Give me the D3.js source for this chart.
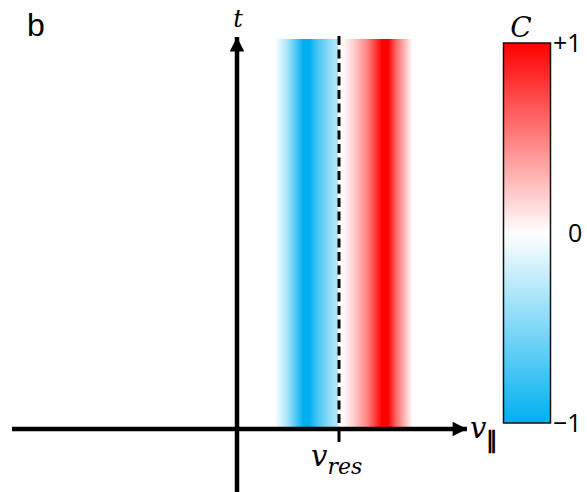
<!DOCTYPE html>
<html>
<head>
<meta charset="utf-8">
<script src="https://cdn.jsdelivr.net/npm/d3@7"></script>
<style>
  body { margin: 0; background: #fff; }
  svg { display: block; }
</style>
</head>
<body>
<div id="chart"></div>
<script>
// velocity positions (v_res = 1) and the correlation C across the band
const v_stops = [0.37, 0.48, 0.58, 0.65, 0.71, 0.80, 0.90, 0.985, 0.99, 1.03, 1.15, 1.28, 1.38, 1.42, 1.48, 1.56, 1.64, 1.72];
const c_stops = [0, -0.3, -0.7, -1, -1, -0.7, -0.45, -0.3, 0, 0, 0.2, 0.5, 0.85, 1, 1, 0.6, 0.3, 0];
const v_res = 1;
const t_span = [0, 1];
const cb_ticks = [1, 0, -1];
const cb_labels = ["+1", "0", "\u22121"];

const width = 587, height = 492;

const svg = d3.select("#chart").append("svg")
	.attr("width", width)
	.attr("height", height);

const x = d3.scaleLinear().domain([0, 1]).range([237, 339]);
const y = d3.scaleLinear().domain([0, 1]).range([429, 39]);
const cb_y = d3.scaleLinear().domain([-1, 1]).range([423, 43]);

const color = d3.scaleLinear()
	.domain([-1, 0, 1])
	.range(["#00b0f0", "#ffffff", "#ff0000"]);

const defs = svg.append("defs");

// band gradient (horizontal)
const v0 = v_stops[0], v1 = v_stops[v_stops.length - 1];
const band_grad = defs.append("linearGradient")
	.attr("id", "band_grad")
	.attr("gradientUnits", "userSpaceOnUse")
	.attr("x1", x(v0)).attr("x2", x(v1))
	.attr("y1", 0).attr("y2", 0);
band_grad.selectAll("stop")
	.data(v_stops)
	.join("stop")
	.attr("offset", d => (d - v0) / (v1 - v0))
	.attr("stop-color", (d, i) => color(c_stops[i]));

svg.append("rect")
	.attr("x", x(v0))
	.attr("y", y(t_span[1]))
	.attr("width", x(v1) - x(v0))
	.attr("height", y(t_span[0]) - y(t_span[1]))
	.attr("fill", "url(#band_grad)");

// colorbar gradient (vertical)
const cb_grad = defs.append("linearGradient")
	.attr("id", "cb_grad")
	.attr("x1", 0).attr("x2", 0)
	.attr("y1", 0).attr("y2", 1);
cb_grad.selectAll("stop")
	.data([1, 0.5, 0, -0.5, -1])
	.join("stop")
	.attr("offset", d => (1 - d) / 2)
	.attr("stop-color", d => color(d));

// arrow markers
defs.append("marker")
	.attr("id", "arrow")
	.attr("viewBox", "0 0 10 10")
	.attr("refX", 10).attr("refY", 5)
	.attr("markerWidth", 3.4).attr("markerHeight", 3.2)
	.attr("markerUnits", "strokeWidth")
	.attr("orient", "auto")
	.append("path")
	.attr("d", "M0,0 L10,5 L0,10 Z")
	.attr("fill", "#000");

// axes
svg.append("line")
	.attr("x1", 12).attr("y1", y(0))
	.attr("x2", 467).attr("y2", y(0))
	.attr("stroke", "#000")
	.attr("stroke-width", 4.5)
	.attr("marker-end", "url(#arrow)");

svg.append("line")
	.attr("x1", x(0)).attr("y1", height)
	.attr("x2", x(0)).attr("y2", 37)
	.attr("stroke", "#000")
	.attr("stroke-width", 4.5)
	.attr("marker-end", "url(#arrow)");

// v_res dashed line + tick
svg.append("line")
	.attr("x1", x(v_res)).attr("y1", y(t_span[1]) - 3)
	.attr("x2", x(v_res)).attr("y2", y(0))
	.attr("stroke", "#000")
	.attr("stroke-width", 3)
	.attr("stroke-dasharray", "9,4.5");

svg.append("line")
	.attr("x1", x(v_res)).attr("y1", y(0))
	.attr("x2", x(v_res)).attr("y2", 442)
	.attr("stroke", "#000")
	.attr("stroke-width", 3);

// labels
const serif = "'DejaVu Serif', 'Liberation Serif', serif";

svg.append("text")
	.attr("x", 27).attr("y", 36)
	.attr("font-family", "'Liberation Sans', Arial, sans-serif")
	.attr("font-size", 32)
	.text("b");

svg.append("text")
	.attr("x", 238).attr("y", 27)
	.attr("text-anchor", "middle")
	.attr("font-family", serif)
	.attr("font-style", "italic")
	.attr("font-size", 24)
	.text("t");

const vpar = svg.append("text")
	.attr("x", 470).attr("y", 438)
	.attr("font-family", serif)
	.attr("font-style", "italic")
	.attr("font-size", 29);
vpar.append("tspan").text("v");
vpar.append("tspan")
	.attr("dy", 10)
	.attr("font-style", "normal")
	.attr("font-weight", "bold")
	.attr("font-family", "'Liberation Sans', sans-serif")
	.attr("font-size", 23)
	.text("\u2225");

const vres = svg.append("text")
	.attr("x", x(v_res) - 28).attr("y", 466)
	.attr("font-family", serif)
	.attr("font-style", "italic")
	.attr("font-size", 29);
vres.append("tspan").text("v");
vres.append("tspan")
	.attr("dy", 8)
	.attr("font-size", 22)
	.text("res");

// colorbar
svg.append("rect")
	.attr("x", 503.5)
	.attr("y", cb_y(1))
	.attr("width", 47)
	.attr("height", cb_y(-1) - cb_y(1))
	.attr("fill", "url(#cb_grad)")
	.attr("stroke", "#111")
	.attr("stroke-width", 1.5);

svg.append("text")
	.attr("x", 521).attr("y", 37)
	.attr("text-anchor", "middle")
	.attr("font-family", serif)
	.attr("font-style", "italic")
	.attr("font-size", 28)
	.text("C");

svg.selectAll(".cb_label")
	.data(cb_ticks)
	.join("text")
	.attr("class", "cb_label")
	.attr("x", d => d == 0 ? 568 : 553)
	.attr("y", d => cb_y(d) + 9)
	.attr("font-family", "'Open Sans', 'Liberation Sans', sans-serif")
	.attr("font-size", 25)
	.text((d, i) => cb_labels[i]);
</script>
</body>
</html>
